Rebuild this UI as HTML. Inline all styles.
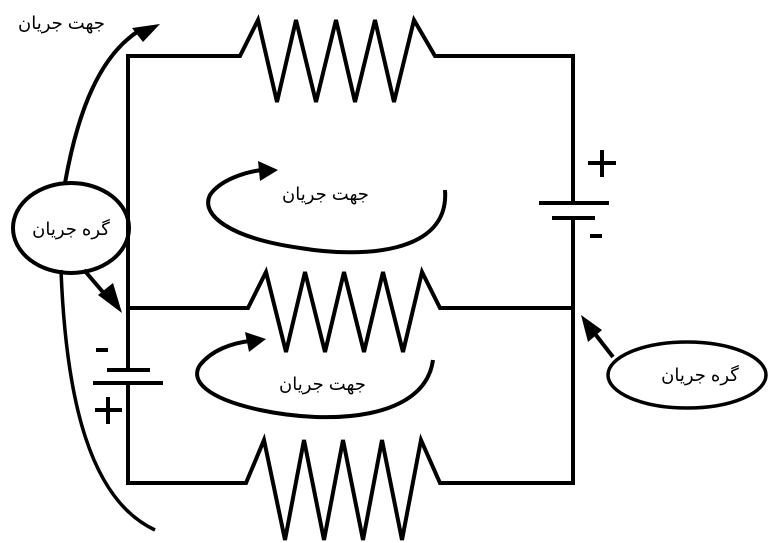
<!DOCTYPE html>
<html><head><meta charset="utf-8"><style>
html,body{margin:0;padding:0;background:#fff;}
svg{display:block;}
text{font-family:"Liberation Sans","DejaVu Sans",sans-serif;font-size:18px;fill:#000;}
</style></head><body>
<svg width="768" height="543" viewBox="0 0 768 543" xmlns="http://www.w3.org/2000/svg">
<g fill="none" stroke="#000" stroke-width="4" stroke-linejoin="miter">
<polyline points="128,56 240,56 258,20 277,102 296,20 316,102 336,20 355,102 375,20 394,102 414,20 435,56 573,56"/>
<polyline points="128,308 248,308 266,272 286,352 305,272 325,352 344,272 364,352 383,272 403,352 422,272 440,308 573,308"/>
<polyline points="128,483 246,483 264,440 285,540 304,440 324,540 343,440 363,540 382,440 402,540 421,440 440,483 573,483"/>
<line x1="128" y1="54" x2="128" y2="370"/>
<line x1="128" y1="383" x2="128" y2="485"/>
<line x1="107" y1="370" x2="150" y2="370"/>
<line x1="93" y1="383" x2="163" y2="383"/>
<line x1="573" y1="54" x2="573" y2="203"/>
<line x1="573" y1="218" x2="573" y2="485"/>
<line x1="539" y1="203" x2="609" y2="203"/>
<line x1="552" y1="218" x2="595" y2="218"/>
<line x1="588" y1="163" x2="616" y2="163"/><line x1="602" y1="150" x2="602" y2="177"/>
<line x1="590" y1="236" x2="602" y2="236"/>
<line x1="96" y1="350" x2="108" y2="350"/>
<line x1="95" y1="410" x2="122" y2="410"/><line x1="108" y1="397" x2="108" y2="424"/>
<ellipse cx="71" cy="228" rx="58" ry="45"/>
<ellipse cx="687" cy="375" rx="79" ry="33" stroke-width="3.5"/>
<path d="M65,183 C78,110 100,55 140,30" />
<path d="M61,270 C66,400 90,500 155,530" stroke-width="3.5"/>
<path d="M445,190 C450,255 360,258 300,248 C230,238 200,215 210,195 C220,180 245,172 262,170"/>
<path d="M433,360 C425,420 330,425 260,410 C205,398 190,380 200,365 C212,350 232,343 250,341"/>
<line x1="84" y1="270" x2="108" y2="298"/>
<line x1="613" y1="357" x2="592" y2="330"/>
</g>
<g fill="#000">
<polygon points="160,24 132,28 143,42"/>
<polygon points="278,170 258,161 260,181"/>
<polygon points="266,339 245,332 249,352"/>
<polygon points="122,313 98,295 113,283"/>
<polygon points="581,315 588,342 602,330"/>
</g>
<text x="18" y="29">جهت جریان</text>
<text x="282" y="200">جهت جریان</text>
<text x="279" y="390">جهت جریان</text>
<text x="71" y="235" text-anchor="middle">گره جریان</text>
<text x="700" y="381" text-anchor="middle">گره جریان</text>
</svg>
</body></html>
